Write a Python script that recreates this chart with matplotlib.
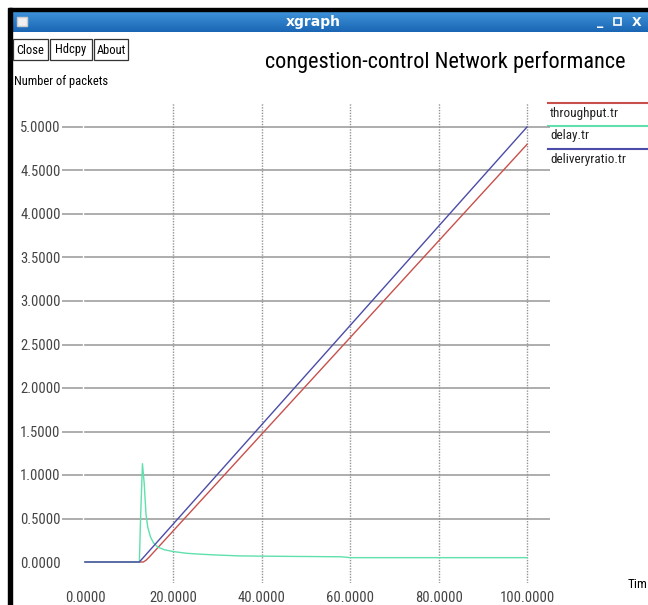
import matplotlib
matplotlib.use("Agg")
import matplotlib.pyplot as plt
from matplotlib.patches import Rectangle
import numpy as np

FONT = ['Roboto Condensed', 'PT Sans Narrow', 'Liberation Sans', 'DejaVu Sans']

# data
thr_t = [0.0, 12.5, 13.2, 13.8, 14.5, 100.0]
thr_v = [0.0, 0.0, 0.0, 0.02, 0.055, 4.80]

dly_t = [0.0, 12.3, 12.6, 13.0, 13.4, 13.8, 14.2, 14.8, 15.5, 16.5, 18.0, 20.0,
         23.0, 26.0, 30.0, 35.0, 45.0, 58.0, 60.0, 100.0]
dly_v = [0.0, 0.0, 0.55, 1.13, 0.90, 0.55, 0.40, 0.29, 0.22, 0.17, 0.14, 0.12,
         0.10, 0.09, 0.08, 0.07, 0.065, 0.06, 0.05, 0.05]

dlv_t = [0.0, 12.3, 100.0]
dlv_v = [0.0, 0.0, 5.0]

series = [("throughput.tr", thr_t, thr_v, "#c8504c"),
          ("delay.tr", dly_t, dly_v, "#5fe0ad"),
          ("deliveryratio.tr", dlv_t, dlv_v, "#4b4ca8")]

yticks = [0.0, 0.5, 1.0, 1.5, 2.0, 2.5, 3.0, 3.5, 4.0, 4.5, 5.0]
xticks = [0.0, 20.0, 40.0, 60.0, 80.0, 100.0]

W, H = 648, 605
fig = plt.figure(figsize=(W / 100, H / 100), dpi=100)

# window chrome drawn in pixel coordinates
bg = fig.add_axes([0, 0, 1, 1])
bg.set_xlim(0, W)
bg.set_ylim(H, 0)
bg.set_axis_off()

grad = np.linspace(0, 1, 50).reshape(-1, 1)
cmap = matplotlib.colors.LinearSegmentedColormap.from_list("bar", ["#3f94da", "#1a66b4"])
bg.imshow(grad, extent=(10, W, 32, 11), cmap=cmap, aspect='auto', zorder=1)
bg.add_patch(Rectangle((9, 8), W - 9, 3, color='black', zorder=2))
bg.add_patch(Rectangle((8, 8), 4, H - 8, color='black', zorder=2))
bg.text(313, 22, "xgraph", color='white', fontsize=10, fontweight='bold',
        ha='center', va='center', family=['DejaVu Sans'], zorder=3)
bg.add_patch(Rectangle((17, 17), 10, 9, facecolor='#f0f0f0', edgecolor='#cccccc', zorder=3))
bg.text(600, 22, "_", color='white', fontsize=9, fontweight='bold', ha='center', va='center', zorder=3)
bg.add_patch(Rectangle((614, 18), 7, 7, facecolor='none', edgecolor='white', lw=1.2, zorder=3))
bg.text(637, 22, "X", color='white', fontsize=9, fontweight='bold', ha='center', va='center', zorder=3)

for label, x0, w in [("Close", 13, 35), ("Hdcpy", 50, 42), ("About", 94, 34)]:
    bg.add_patch(Rectangle((x0, 39), w, 21, facecolor='white', edgecolor='#333333', lw=0.9, zorder=2))
    bg.text(x0 + w / 2, 50, label, fontsize=9, ha='center', va='center', family=FONT, zorder=3)

bg.text(445, 62, "congestion-control Network performance", fontsize=16,
        ha='center', va='center', family=FONT)
bg.text(14, 81, "Number of packets", fontsize=9, ha='left', va='center', family=FONT)
bg.text(628, 585, "Tim", fontsize=9.5, ha='left', va='center', family=FONT)

# plot area: x=0 -> px 85, x=100 -> px 527 ; y=0 -> px 562, y=5 -> px 127
left, right, top, bottom = 62, 550, 103, 583
x_lo, x_hi = (left - 85) / 4.42, (right - 85) / 4.42
y_lo, y_hi = (562 - bottom) / 87.0, (562 - top) / 87.0

ax = fig.add_axes([left / W, 1 - bottom / H, (right - left) / W, (bottom - top) / H])
ax.patch.set_alpha(0)
ax.set_xlim(x_lo, x_hi)
ax.set_ylim(y_lo, y_hi)
for s in ax.spines.values():
    s.set_visible(False)

tick_end = (82 - 85) / 4.42
for y in yticks[1:]:
    ax.plot([x_lo, tick_end], [y, y], color='#a0a0a0', lw=1.2, zorder=1)
    ax.plot([0, x_hi], [y, y], color='#a0a0a0', lw=1.2, zorder=1)
for x in xticks[1:]:
    ax.plot([x, x], [y_lo, y_hi], color='#949494', lw=1.0, ls=(0, (1, 1)), zorder=1)

ax.set_yticks(yticks)
ax.set_yticklabels(["%.4f" % v for v in yticks], family=FONT, fontsize=10.5, color='#444444')
ax.set_xticks(xticks)
ax.set_xticklabels(["%.4f" % v for v in xticks], family=FONT, fontsize=10.5, color='#444444')
ax.tick_params(axis='y', length=0, pad=1)
ax.tick_params(axis='x', length=0, pad=6)

for name, t, v, c in series:
    ax.plot(t, v, color=c, lw=1.0, zorder=3)

# legend entries at the right
for i, (name, t, v, c) in enumerate(series):
    yl = 103 + i * 23
    bg.plot([548, W], [yl, yl], color=c, lw=1.5)
    bg.text(550, yl + 10, name, fontsize=9.5, ha='left', va='center', family=FONT, color='#222222')

fig.savefig("out.png", dpi=100)
